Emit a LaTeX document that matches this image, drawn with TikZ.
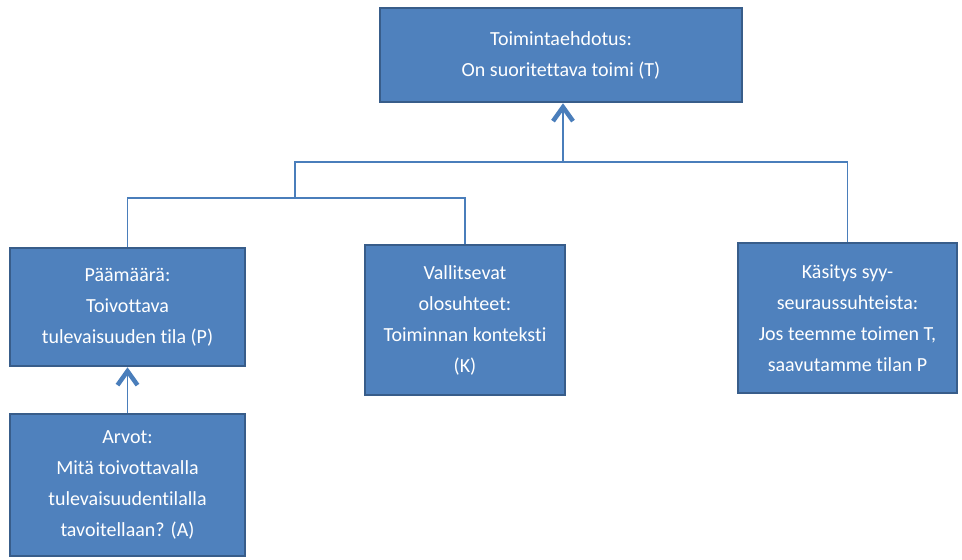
\documentclass[tikz,border=0pt]{standalone}
\usepackage{fontspec}
\setmainfont{Carlito}[Ligatures=NoCommon]
\usetikzlibrary{arrows.meta}
\definecolor{boxfill}{HTML}{4F81BD}
\definecolor{boxline}{HTML}{385D8A}
\definecolor{conn}{HTML}{4A7EBB}
\begin{document}
\begin{tikzpicture}[x=1pt,y=-1pt,
  box/.style={draw=boxline, line width=2.5pt, fill=boxfill, text=white, align=center,
    font=\fontsize{20}{31}\selectfont, inner sep=0pt},
  link/.style={draw=conn, line width=1.5pt},
  uparrow/.style={-{Straight Barb[length=14pt,width=20pt,line width=3pt 1]}}]
\useasboundingbox (0,0) rectangle (962,560);
\fill[white] (0,0) rectangle (962,560);
\node[box, minimum width=362pt, minimum height=94pt] (top) at (561,55)
  {Toimintaehdotus:\\On suoritettava toimi (T)};
\node[box, minimum width=235pt, minimum height=118pt] (pam) at (127.5,307)
  {Päämäärä:\\Toivottava\\tulevaisuuden tila (P)};
\node[box, minimum width=235pt, minimum height=142pt] (arv) at (127.5,485)
  {Arvot:\\Mitä toivottavalla\\tulevaisuudentilalla\\tavoitellaan? (A)};
\node[box, minimum width=200pt, minimum height=150pt] (kon) at (465,320)
  {Vallitsevat\\olosuhteet:\\Toiminnan konteksti\\(K)};
\node[box, minimum width=219pt, minimum height=150pt] (kas) at (847.5,318)
  {Käsitys syy-\\seuraussuhteista:\\Jos teemme toimen T,\\saavutamme tilan P};
\coordinate (m2) at (295,198);
\coordinate (m1) at (563,162);
\draw[link] (pam.north) |- (m2) -| (kon.north);
\draw[link] (m2) |- (m1) -| (kas.north);
\draw[link, uparrow] (m1) -- (m1 |- top.south);
\draw[link, uparrow] (arv.north) -- (pam.south);
\end{tikzpicture}
\end{document}
